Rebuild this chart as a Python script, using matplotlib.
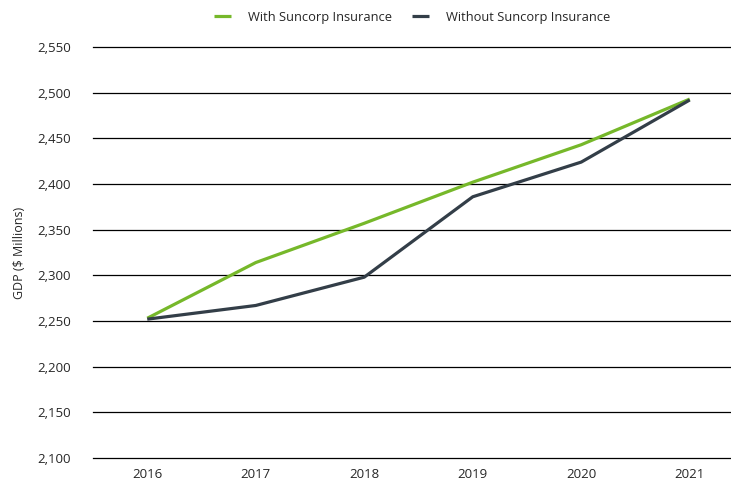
import matplotlib
matplotlib.use("Agg")
import matplotlib.pyplot as plt
import numpy as np
from matplotlib.ticker import FuncFormatter

# values
years = ["2016", "2017", "2018", "2019", "2020", "2021"]
with_suncorp = [2253, 2314, 2357, 2402, 2443, 2493]
without_suncorp = [2252, 2267, 2298, 2386, 2424, 2492]

GREEN = "#76b82a"
DARK = "#333e48"

plt.rcParams["font.family"] = ["Open Sans", "DejaVu Sans"]

fig = plt.figure(figsize=(7.31, 4.84), dpi=100)
ax = fig.add_axes([93 / 731, 26 / 484, 651 / 731, 411 / 484])

x = np.arange(len(years))
ax.plot(x, with_suncorp, color=GREEN, linewidth=2.3, label="With Suncorp Insurance",
        solid_capstyle="butt")
ax.plot(x, without_suncorp, color=DARK, linewidth=2.3, label="Without Suncorp Insurance",
        solid_capstyle="butt")

# === axes ===
ax.set_xlim(-0.5, len(years) - 0.5)
ax.set_ylim(2100, 2550)
ax.set_xticks(x)
ax.set_xticklabels(years)
ax.set_yticks(np.arange(2100, 2551, 50))
ax.yaxis.set_major_formatter(FuncFormatter(lambda v, _p: f"{v:,.0f}"))
ax.tick_params(axis="both", length=0, labelsize=9.5, colors="#262626")
ax.tick_params(axis="y", pad=16)
ax.tick_params(axis="x", pad=7)

ax.grid(True, axis="y", color="black", linewidth=0.9)
for gl in ax.get_ygridlines():
    gl.set_clip_on(False)
ax.set_axisbelow(True)
for s in ax.spines.values():
    s.set_visible(False)

ax.set_ylabel("GDP ($ Millions)", fontsize=9, color="#262626", labelpad=8)

fig.legend(loc="center", bbox_to_anchor=(412 / 731, 1 - 17 / 484), ncol=2,
           frameon=False, fontsize=9.3, handlelength=1.3, handletextpad=1.3,
           columnspacing=1.6, labelcolor="#262626")

fig.savefig("out.png", dpi=100)
